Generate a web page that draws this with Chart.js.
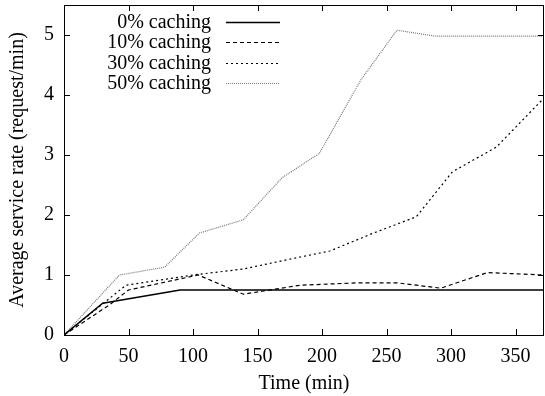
<!DOCTYPE html>
<html>
<head>
<meta charset="utf-8">
<script src="https://cdn.jsdelivr.net/npm/chart.js@4/dist/chart.umd.min.js"></script>
<style>
html,body{margin:0;padding:0;background:#fff;}
#wrap{width:545px;height:396px;}
</style>
</head>
<body>
<div id="wrap"><canvas id="c" width="545" height="396"></canvas></div>
<script>
const seriesLabels = ["0% caching", "10% caching", "30% caching", "50% caching"];
const t0 = [0, 30, 90, 372];
const v0 = [0, 0.53, 0.75, 0.75];
const t10 = [0, 35, 50, 104, 139, 183, 229, 258, 292, 328, 372];
const v10 = [0, 0.5, 0.75, 1.0, 0.68, 0.83, 0.87, 0.87, 0.78, 1.04, 1.0];
const t30 = [0, 48, 100, 139, 183, 206, 240, 273, 301, 335, 372];
const v30 = [0, 0.83, 1.0, 1.1, 1.3, 1.4, 1.7, 1.97, 2.72, 3.13, 3.95];
const t50 = [0, 43, 78, 105, 139, 169, 198, 230, 258, 288, 372];
const v50 = [0, 1.0, 1.13, 1.7, 1.92, 2.62, 3.03, 4.25, 5.08, 4.98, 4.98];
const xTicks = [0, 50, 100, 150, 200, 250, 300, 350];
const yTicks = [0, 1, 2, 3, 4, 5];

const pts = (t, v) => t.map((x, i) => ({x: x, y: v[i]}));
const FONT = "'Liberation Serif','Times New Roman',serif";
const FS = 20;

const styles = [
  {borderColor: '#000', borderWidth: 1.4, borderDash: []},
  {borderColor: '#000', borderWidth: 1.2, borderDash: [4, 3]},
  {borderColor: '#000', borderWidth: 1.2, borderDash: [2, 3]},
  {borderColor: '#777', borderWidth: 1.2, borderDash: [1, 1]}
];
const dataArr = [pts(t0, v0), pts(t10, v10), pts(t30, v30), pts(t50, v50)];

const framePlugin = {
  id: 'frame',
  afterDraw(chart) {
    const ctx = chart.ctx, a = chart.chartArea;
    const xs = chart.scales.x, ys = chart.scales.y;
    ctx.save();
    ctx.strokeStyle = '#000';
    ctx.lineWidth = 1;
    ctx.strokeRect(Math.round(a.left) + 0.5, Math.round(a.top) + 0.5, Math.round(a.right - a.left) - 1, Math.round(a.bottom - a.top));
    ctx.beginPath();
    const L = 6;
    xTicks.forEach(v => {
      const p = Math.round(xs.getPixelForValue(v)) + 0.5;
      ctx.moveTo(p, a.bottom); ctx.lineTo(p, a.bottom - L);
      ctx.moveTo(p, a.top); ctx.lineTo(p, a.top + L);
    });
    yTicks.forEach(v => {
      const p = Math.round(ys.getPixelForValue(v)) + 0.5;
      ctx.moveTo(a.left, p); ctx.lineTo(a.left + L, p);
      ctx.moveTo(a.right, p); ctx.lineTo(a.right - L, p);
    });
    ctx.stroke();
    // legend
    ctx.font = FS + 'px ' + FONT;
    ctx.textAlign = 'right';
    ctx.textBaseline = 'middle';
    ctx.fillStyle = '#000';
    seriesLabels.forEach((lab, i) => {
      const y = Math.round(21.5 + i * 20.5);
      ctx.fillText(lab, 211, y + 1);
      const s = styles[i];
      ctx.beginPath();
      ctx.strokeStyle = s.borderColor;
      ctx.lineWidth = s.borderWidth;
      ctx.setLineDash(s.borderDash);
      ctx.moveTo(226, y + 0.5); ctx.lineTo(280, y + 0.5);
      ctx.stroke();
    });
    ctx.restore();
  }
};

new Chart(document.getElementById('c'), {
  type: 'line',
  data: {
    datasets: seriesLabels.map((lab, i) => Object.assign({
      label: lab,
      data: dataArr[i],
      pointRadius: 0,
      fill: false,
      tension: 0
    }, styles[i]))
  },
  options: {
    responsive: false,
    animation: false,
    layout: {padding: {top: 5, right: 1, left: 0, bottom: 0}},
    plugins: {legend: {display: false}, tooltip: {enabled: false}},
    scales: {
      x: {
        type: 'linear', min: 0, max: 372,
        afterBuildTicks: s => { s.ticks = xTicks.map(v => ({value: v})); },
        afterFit: s => { s.height = 61; s.paddingLeft = 0; s.paddingRight = 0; },
        grid: {display: false, drawTicks: false},
        border: {display: false},
        ticks: {font: {family: FONT, size: FS}, color: '#000', padding: 10, maxRotation: 0},
        title: {display: true, text: 'Time (min)', font: {family: FONT, size: FS}, color: '#000', padding: {top: 3, bottom: 0}}
      },
      y: {
        type: 'linear', min: 0, max: 5.5,
        afterBuildTicks: s => { s.ticks = yTicks.map(v => ({value: v})); },
        afterFit: s => { s.width = 64; s.paddingTop = 0; s.paddingBottom = 0; },
        grid: {display: false, drawTicks: false},
        border: {display: false},
        ticks: {font: {family: FONT, size: FS}, color: '#000', padding: 10},
        title: {display: true, text: 'Average service rate (request/min)', font: {family: FONT, size: FS}, color: '#000', padding: {top: 6, bottom: 0}}
      }
    }
  },
  plugins: [framePlugin]
});
</script>
</body>
</html>
